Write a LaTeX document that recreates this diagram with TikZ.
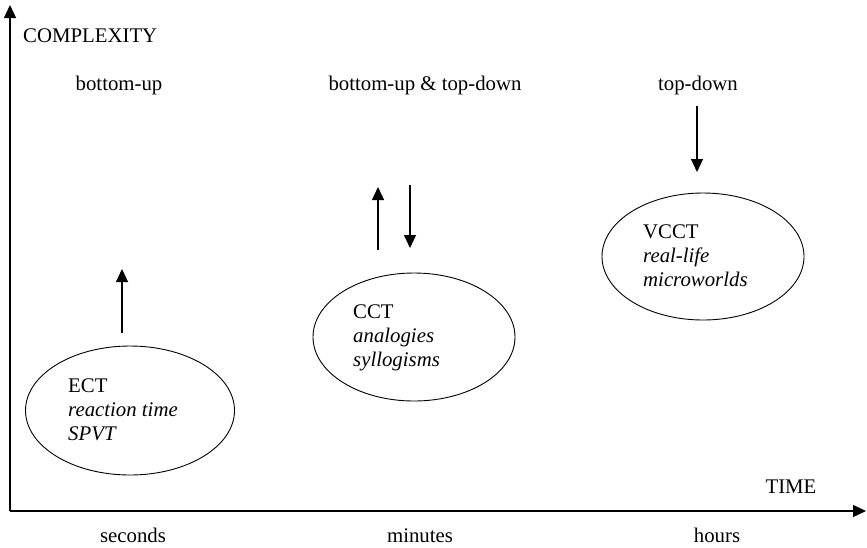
\documentclass[tikz,border=0pt]{standalone}
\usepackage{fontspec}
\setmainfont{Liberation Serif}
\usetikzlibrary{arrows.meta,shapes.geometric}
\begin{document}
\begin{tikzpicture}[x=1pt,y=-1pt,
  txt/.style={inner sep=0pt,font=\fontsize{20.8}{24}\selectfont},
  ell/.style={draw,ellipse,inner sep=0pt,line width=0.9pt},
  axis/.style={line width=1.3pt,-{Triangle[length=13pt,width=12pt]}},
  flow/.style={line width=1.2pt,-{Triangle[length=13pt,width=12pt]}}]
\useasboundingbox (0,0) rectangle (867,547);

% axes
\coordinate (o) at (10,511);
\coordinate (ytop) at (10,5);
\coordinate (xend) at (866,511);
\draw[axis] (o) -- (ytop);
\draw[axis] (o) -- (xend);

% axis labels
\node[txt,anchor=base west] (cplx) at (23,42) {COMPLEXITY};
\node[txt,anchor=base] (time) at (791,493) {TIME};
\node[txt,anchor=base] (sec) at (133,542) {seconds};
\node[txt,anchor=base] (min) at (420,542) {minutes};
\node[txt,anchor=base] (hrs) at (717,542) {hours};

% processing direction headings
\node[txt,anchor=base] (bu) at (119,90) {bottom-up};
\node[txt,anchor=base] (butd) at (425,90) {bottom-up \& top-down};
\node[txt,anchor=base] (td) at (698,90) {top-down};

% task ellipses
\node[ell,minimum width=209pt,minimum height=129pt] (ect) at (130,410.5) {};
\node[ell,minimum width=202pt,minimum height=128pt] (cct) at (414,337) {};
\node[ell,minimum width=202pt,minimum height=127pt] (vcct) at (703,256.5) {};

% ellipse contents
\node[txt,anchor=base west] (ect1) at (68,392) {ECT};
\node[txt,anchor=base west] (ect2) at (68,416) {\itshape reaction time};
\node[txt,anchor=base west] (ect3) at (68,440) {\itshape SPVT};

\node[txt,anchor=base west] (cct1) at (353,318) {CCT};
\node[txt,anchor=base west] (cct2) at (353,342) {\itshape analogies};
\node[txt,anchor=base west] (cct3) at (353,366) {\itshape syllogisms};

\node[txt,anchor=base west] (vcct1) at (643,238) {VCCT};
\node[txt,anchor=base west] (vcct2) at (643,262) {\itshape real-life};
\node[txt,anchor=base west] (vcct3) at (643,286) {\itshape microworlds};

% direction arrows
\coordinate (a1s) at (122,333);
\coordinate (a1e) at (122,269);
\coordinate (a2s) at (378,250);
\coordinate (a2e) at (378,187);
\coordinate (a3s) at (410,185);
\coordinate (a3e) at (410,248);
\coordinate (a4s) at (697,106);
\coordinate (a4e) at (697,172);
\draw[flow] (a1s) -- (a1e);
\draw[flow] (a2s) -- (a2e);
\draw[flow] (a3s) -- (a3e);
\draw[flow] (a4s) -- (a4e);
\end{tikzpicture}
\end{document}
